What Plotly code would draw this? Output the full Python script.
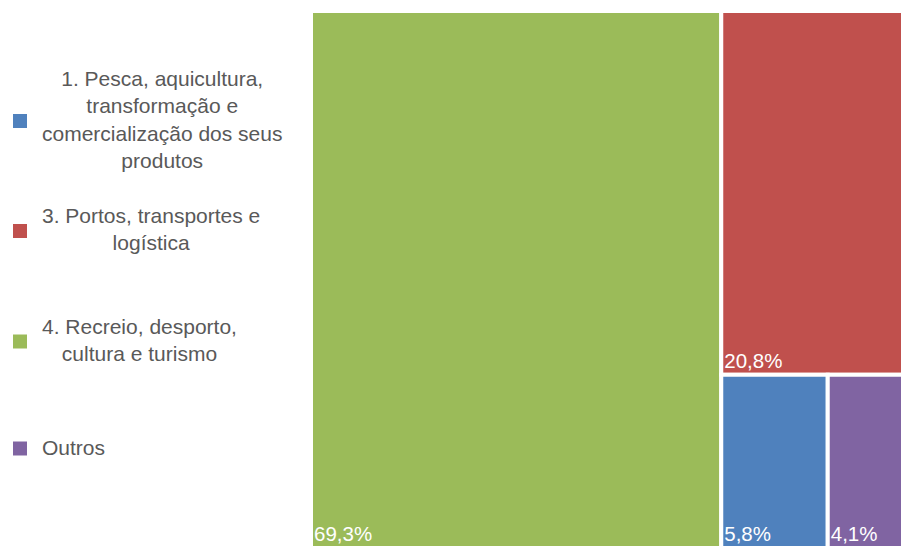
import plotly.graph_objects as go

# Sector shares (%) and their display names
categories = [
    "4. Recreio, desporto,<br>cultura e turismo",
    "3. Portos, transportes e<br>logística",
    "1. Pesca, aquicultura,<br>transformação e<br>comercialização dos seus<br>produtos",
    "Outros",
]
shares = [69.3, 20.8, 5.8, 4.1]
colors = ["#9BBB59", "#C0504D", "#4F81BD", "#8064A2"]

# Legend order (as listed beside the chart)
legend_order = [2, 1, 0, 3]

W, H = 903, 548
FONT = "Liberation Sans, Arial, sans-serif"


def pct_label(v):
    return f"{v:.1f}".replace(".", ",") + "%"


fig = go.Figure(
    go.Treemap(
        labels=categories,
        parents=[""] * len(categories),
        values=shares,
        text=[pct_label(v) for v in shares],
        texttemplate="%{text}",
        textposition="bottom left",
        textfont=dict(family=FONT, size=20.5, color="white"),
        marker=dict(colors=colors, line=dict(color="white", width=4),
                    pad=dict(t=0, l=0, r=0, b=0)),
        tiling=dict(packing="squarify", squarifyratio=1, pad=0),
        sort=True,
        pathbar=dict(visible=False),
        domain=dict(x=[311 / W, 1], y=[0, 1 - 11 / H]),
        hoverinfo="skip",
    )
)

# Legend: colour square plus centred label block
legend_y = [119.5, 229.5, 340, 447]
shapes = []
annotations = []
for idx, yc in zip(legend_order, legend_y):
    shapes.append(
        dict(
            type="rect", xref="paper", yref="paper",
            x0=13 / W, x1=27 / W,
            y0=1 - (yc + 8.5) / H, y1=1 - (yc - 5.5) / H,
            fillcolor=colors[idx], line=dict(width=0),
        )
    )
    annotations.append(
        dict(
            text=categories[idx], xref="paper", yref="paper",
            x=40 / W, y=1 - yc / H, xanchor="left", yanchor="middle",
            align="center", showarrow=False,
            font=dict(family=FONT, size=21, color="#595959"),
        )
    )

fig.update_layout(
    width=W, height=H,
    margin=dict(l=0, r=0, t=0, b=0),
    paper_bgcolor="white",
    shapes=shapes,
    annotations=annotations,
    showlegend=False,
)

fig.write_html("out.html")
